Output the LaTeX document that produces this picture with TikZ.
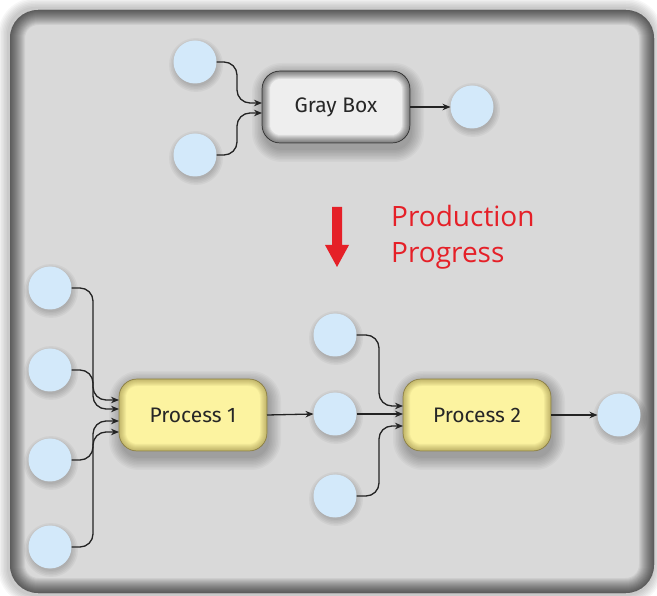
\documentclass[tikz,border=0pt]{standalone}
\usepackage{fontspec}
\setmainfont{Fira Sans}
\newfontfamily\notefont{Open Sans}
\usetikzlibrary{arrows.meta,calc}

\definecolor{panelgray}{RGB}{217,217,217}
\definecolor{dotblue}{RGB}{211,233,250}
\definecolor{boxgray}{RGB}{238,238,238}
\definecolor{boxyellow}{RGB}{252,243,160}
\definecolor{yellowedge}{RGB}{120,105,40}
\definecolor{grayedge}{RGB}{70,70,70}
\definecolor{wire}{RGB}{35,35,35}
\definecolor{prodred}{RGB}{229,32,40}

\pgfdeclarelayer{base}
\pgfdeclarelayer{shade}
\pgfsetlayers{base,shade,main}

% darkening band just inside a rounded node border
\newcommand\bevel[5]{%
  \begin{scope}
    \clip[rounded corners=#2] (#1.south west) rectangle (#1.north east);
    \foreach \w in {2,4,...,#3}
      \draw[#5, opacity=#4, line width=\w pt, rounded corners=#2]
        (#1.south west) rectangle (#1.north east);
  \end{scope}}

% soft shadow under a round node
\newcommand\dotshade[1]{%
  \begin{pgfonlayer}{shade}
    \foreach \r in {21,22.5,...,28}
      \fill[black, opacity=0.04] ($(#1)+(1,3)$) circle (\r);
  \end{pgfonlayer}}

% soft shadow under a rounded box
\newcommand\boxshade[1]{%
  \begin{pgfonlayer}{shade}
    \foreach \e in {0,1.5,...,12}
      \fill[black, opacity=0.032, rounded corners={18pt+\e pt}]
        ($(#1.south west)+(2-\e,7+\e)$) rectangle ($(#1.north east)+(2+\e,4-\e)$);
  \end{pgfonlayer}}

\begin{document}
\begin{tikzpicture}[x=1pt,y=-1pt,
  dot/.style={circle, minimum size=43pt, inner sep=0pt, outer sep=0pt, fill=dotblue},
  taskbox/.style={rectangle, rounded corners=18pt, minimum width=148pt, minimum height=72pt,
    inner sep=0pt, outer sep=0pt, line width=0.7pt, text=black!85,
    font=\fontsize{21}{24}\selectfont},
  graytask/.style={taskbox, fill=boxgray, draw=grayedge},
  yellowtask/.style={taskbox, fill=boxyellow, draw=yellowedge!80},
  conn/.style={draw=wire, line width=1.3pt, -{Stealth[length=8pt,width=6.5pt]}},
  feed/.style={conn, rounded corners=13pt},
  note/.style={anchor=base west, inner sep=0pt, text=prodred, font=\notefont\fontsize{28}{32}\selectfont}
]
\useasboundingbox (0,0) rectangle (657,596);

% outer panel with its halo and inner bevel
\begin{pgfonlayer}{base}
  \fill[white] (0,0) rectangle (657,596);
  \foreach \e in {0,1.5,...,9}
    \fill[black, opacity=0.03, rounded corners={28pt+\e pt}]
      (7-\e,7-\e) rectangle (654+\e,596+\e);
  \node[rectangle, rounded corners=28pt, minimum width=644pt, minimum height=583pt,
    inner sep=0pt, outer sep=0pt, fill=panelgray] (panel) at (332,301.5) {};
  \bevel{panel}{28pt}{30}{0.05}{black}
\end{pgfonlayer}

% gray box stage
\node[dot] (g1) at (195,62) {};
\node[dot] (g2) at (195,155) {};
\node[graytask] (gb) at (336,107) {Gray Box};
\bevel{gb}{18pt}{16}{0.07}{black}
\node[dot] (go) at (472,107) {};

\draw[feed] (g1.east) -| ($(gb.west)+(-25,-4)$) -- ($(gb.west)+(0,-4)$);
\draw[feed] (g2.east) -| ($(gb.west)+(-25,6)$) -- ($(gb.west)+(0,6)$);
\draw[conn] (gb.east) -- (go.west);

% production progress marker
\fill[prodred] (332,207) -- (342,207) -- (342,245) -- (349,245) -- (337,267) -- (325,245) -- (332,245) -- cycle;
\node[note] (prodA) at (391,227) {Production};
\node[note] (prodB) at (391,263) {Progress};

% process 1
\node[dot] (a1) at (50,288) {};
\node[dot] (a2) at (50,370) {};
\node[dot] (a3) at (50,460) {};
\node[dot] (a4) at (50,547) {};
\node[yellowtask] (p1) at (193,415) {Process 1};
\bevel{p1}{18pt}{14}{0.07}{yellowedge}

\draw[feed] (a1.east) -| ($(p1.west)+(-26,-15)$) -- ($(p1.west)+(0,-15)$);
\draw[feed] (a2.east) -| ($(p1.west)+(-26,-6)$) -- ($(p1.west)+(0,-6)$);
\draw[feed] (a3.east) -| ($(p1.west)+(-26,6)$) -- ($(p1.west)+(0,6)$);
\draw[feed] (a4.east) -| ($(p1.west)+(-26,17)$) -- ($(p1.west)+(0,17)$);

% process 2
\node[dot] (b1) at (335,335) {};
\node[dot] (b2) at (335,414) {};
\node[dot] (b3) at (335,496) {};
\node[yellowtask] (p2) at (477,415) {Process 2};
\bevel{p2}{18pt}{14}{0.07}{yellowedge}
\node[dot] (bo) at (619,415) {};

\draw[conn] (p1.east) -- (b2.west);
\draw[feed] (b1.east) -| ($(p2.west)+(-24,-9)$) -- ($(p2.west)+(0,-9)$);
\draw[conn] (b2.east) -- (b2.east -| p2.west);
\draw[feed] (b3.east) -| ($(p2.west)+(-24,11)$) -- ($(p2.west)+(0,11)$);
\draw[conn] (p2.east) -- (bo.west);

% shadows beneath the nodes
\foreach \n in {g1,g2,go,a1,a2,a3,a4,b1,b2,b3,bo} { \dotshade{\n} }
\foreach \n in {gb,p1,p2} { \boxshade{\n} }
\end{tikzpicture}
\end{document}
